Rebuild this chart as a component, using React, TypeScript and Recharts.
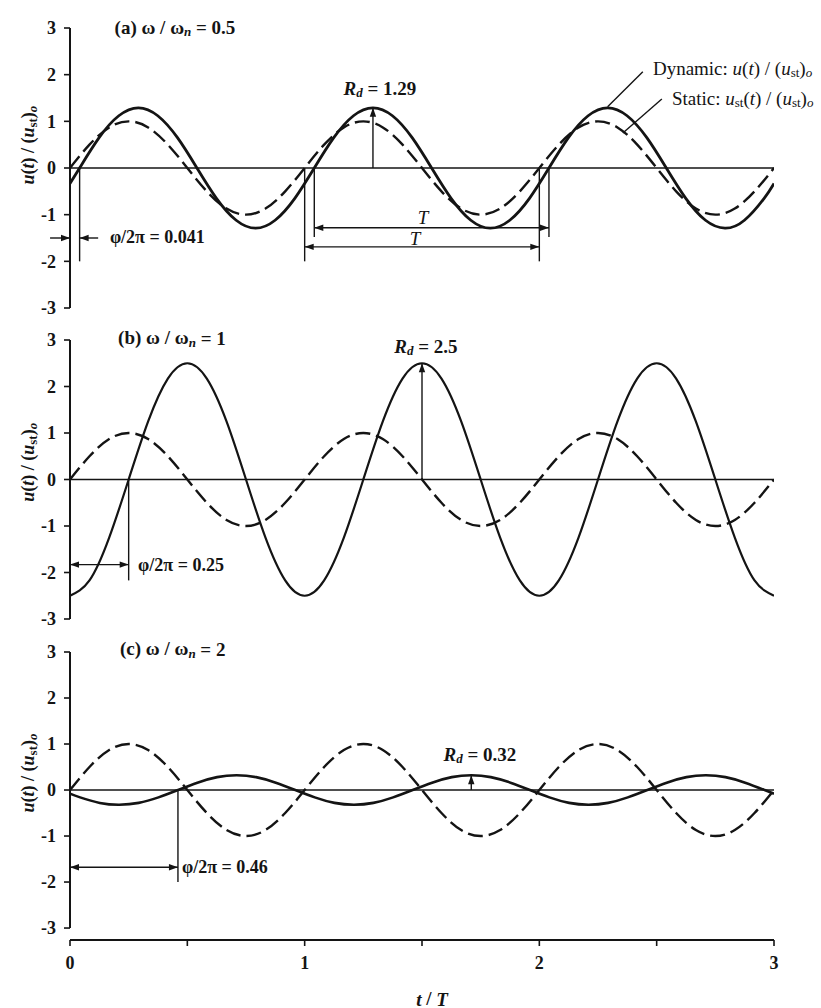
import React from 'react';
import { LineChart, Line, XAxis, YAxis, ReferenceLine, ReferenceDot } from 'recharts';

const INK = '#141414';
const SERIF = '"Liberation Serif", "Times New Roman", Times, serif';

// t / T sampling used by the static curve and by panel (b)
const timeGrid = [
  0, 0.083, 0.167, 0.25, 0.333, 0.417, 0.5, 0.583, 0.667, 0.75, 0.833, 0.917,
  1, 1.083, 1.167, 1.25, 1.333, 1.417, 1.5, 1.583, 1.667, 1.75, 1.833, 1.917,
  2, 2.083, 2.167, 2.25, 2.333, 2.417, 2.5, 2.583, 2.667, 2.75, 2.833, 2.917, 3,
];

// Static: u_st(t) / (u_st)o
const staticResponse = [
  0, 0.5, 0.87, 1, 0.87, 0.5, 0, -0.5, -0.87, -1, -0.87, -0.5,
  0, 0.5, 0.87, 1, 0.87, 0.5, 0, -0.5, -0.87, -1, -0.87, -0.5,
  0, 0.5, 0.87, 1, 0.87, 0.5, 0, -0.5, -0.87, -1, -0.87, -0.5, 0,
];

// (a) ω/ωn = 0.5
const dynamicTimeA = [
  0, 0.041, 0.124, 0.208, 0.291, 0.374, 0.458, 0.541, 0.624, 0.708, 0.791, 0.874, 0.958,
  1.041, 1.124, 1.208, 1.291, 1.374, 1.458, 1.541, 1.624, 1.708, 1.791, 1.874, 1.958,
  2.041, 2.124, 2.208, 2.291, 2.374, 2.458, 2.541, 2.624, 2.708, 2.791, 2.874, 2.958, 3,
];
const dynamicResponseA = [
  -0.33, 0, 0.65, 1.12, 1.29, 1.12, 0.65, 0, -0.65, -1.12, -1.29, -1.12, -0.65,
  0, 0.65, 1.12, 1.29, 1.12, 0.65, 0, -0.65, -1.12, -1.29, -1.12, -0.65,
  0, 0.65, 1.12, 1.29, 1.12, 0.65, 0, -0.65, -1.12, -1.29, -1.12, -0.65, -0.33,
];

// (b) ω/ωn = 1, sampled on timeGrid
const dynamicResponseB = [
  -2.5, -2.17, -1.25, 0, 1.25, 2.17, 2.5, 2.17, 1.25, 0, -1.25, -2.17,
  -2.5, -2.17, -1.25, 0, 1.25, 2.17, 2.5, 2.17, 1.25, 0, -1.25, -2.17,
  -2.5, -2.17, -1.25, 0, 1.25, 2.17, 2.5, 2.17, 1.25, 0, -1.25, -2.17, -2.5,
];

// (c) ω/ωn = 2
const dynamicTimeC = [
  0, 0.043, 0.127, 0.21, 0.293, 0.377, 0.46, 0.543, 0.627, 0.71, 0.793, 0.877, 0.96,
  1.043, 1.127, 1.21, 1.293, 1.377, 1.46, 1.543, 1.627, 1.71, 1.793, 1.877, 1.96,
  2.043, 2.127, 2.21, 2.293, 2.377, 2.46, 2.543, 2.627, 2.71, 2.793, 2.877, 2.96, 3,
];
const dynamicResponseC = [
  -0.08, -0.16, -0.28, -0.32, -0.28, -0.16, 0, 0.16, 0.28, 0.32, 0.28, 0.16, 0,
  -0.16, -0.28, -0.32, -0.28, -0.16, 0, 0.16, 0.28, 0.32, 0.28, 0.16, 0,
  -0.16, -0.28, -0.32, -0.28, -0.16, 0, 0.16, 0.28, 0.32, 0.28, 0.16, 0, -0.08,
];

const frequencyRatios = ['0.5', '1', '2'];
const responseFactors = [1.29, 2.5, 0.32];
const phaseRatios = [0.041, 0.25, 0.46];
const yTicks = [-3, -2, -1, 0, 1, 2, 3];
const xTicks = [0, 0.5, 1, 1.5, 2, 2.5, 3];

const zip = (ts: number[], us: number[]) => ts.map((t, i) => ({ t, u: us[i] }));

const staticRows = zip(timeGrid, staticResponse);
const rowsA = zip(dynamicTimeA, dynamicResponseA);
const rowsB = zip(timeGrid, dynamicResponseB);
const rowsC = zip(dynamicTimeC, dynamicResponseC);

// line with optional filled arrowheads at either end
const arrowShape = (atStart: boolean, atEnd: boolean, width = 1.4) => (p: any) => {
  const { x1, y1, x2, y2 } = p;
  const head = (xa: number, ya: number, xb: number, yb: number) => {
    const dx = xb - xa;
    const dy = yb - ya;
    const len = Math.hypot(dx, dy) || 1;
    const ux = dx / len;
    const uy = dy / len;
    const L = Math.min(9, len * 0.6);
    const W = 3.2;
    const bx = xb - ux * L;
    const by = yb - uy * L;
    return `${xb},${yb} ${bx - uy * W},${by + ux * W} ${bx + uy * W},${by - ux * W}`;
  };
  return (
    <g>
      <line x1={x1} y1={y1} x2={x2} y2={y2} stroke={INK} strokeWidth={width} />
      {atEnd && <polygon points={head(x1, y1, x2, y2)} fill={INK} />}
      {atStart && <polygon points={head(x2, y2, x1, y1)} fill={INK} />}
    </g>
  );
};

const seg = (
  key: string,
  a: [number, number],
  b: [number, number],
  atStart = false,
  atEnd = false,
  width = 1.4,
) => (
  <ReferenceLine
    key={key}
    segment={[{ x: a[0], y: a[1] }, { x: b[0], y: b[1] }]}
    ifOverflow="visible"
    shape={arrowShape(atStart, atEnd, width)}
  />
);

const note = (
  key: string,
  t: number,
  u: number,
  body: React.ReactNode,
  opts: { anchor?: string; size?: number; weight?: string | number; rotate?: boolean; italic?: boolean } = {},
) => (
  <ReferenceDot
    key={key}
    x={t}
    y={u}
    r={1}
    ifOverflow="visible"
    shape={(p: any) => (
      <text
        x={p.cx}
        y={p.cy}
        transform={opts.rotate ? `rotate(-90 ${p.cx} ${p.cy})` : undefined}
        textAnchor={opts.anchor ?? 'start'}
        dominantBaseline="central"
        fontFamily={SERIF}
        fontSize={opts.size ?? 19}
        fontWeight={opts.weight ?? 'normal'}
        fontStyle={opts.italic ? 'italic' : 'normal'}
        fill={INK}
      >
        {body}
      </text>
    )}
  />
);

// subscript followed by text back on the baseline
const sub = (s: string, after: React.ReactNode, italic = false, size = 13) => (
  <>
    <tspan dy={4} fontSize={size} fontStyle={italic ? 'italic' : 'normal'}>{s}</tspan>
    <tspan dy={-4}>{after}</tspan>
  </>
);

const title = (letter: string, ratio: string) => (
  <>
    ({letter}) ω / ω{sub('n', ` = ${ratio}`, true)}
  </>
);

const ustOver = (
  <>
    / (<tspan fontStyle="italic">u</tspan>
    {sub('st', ')')}
    <tspan dy={4} fontSize={13} fontStyle="italic">o</tspan>
  </>
);

const yTitle = (
  <>
    <tspan fontStyle="italic">u</tspan>(<tspan fontStyle="italic">t</tspan>) {ustOver}
  </>
);

const rdLabel = (v: number) => (
  <>
    <tspan fontStyle="italic">R</tspan>
    {sub('d', ` = ${v}`, true)}
  </>
);

const phiLabel = (v: number) => <>φ/2π = {v}</>;

const XTick = (props: any) => {
  const { x, y, payload } = props;
  if (!Number.isInteger(payload.value)) return <g />;
  return (
    <text x={x} y={y} dy="0.72em" textAnchor="middle" fontFamily={SERIF} fontSize={18} fontWeight="bold" fill={INK}>
      {payload.value}
    </text>
  );
};

const PLOT_WIDTH = 821;

function Panel({
  top,
  height,
  margin,
  domain,
  dynamic,
  dynamicWidth,
  bottomAxis,
  children,
}: {
  top: number;
  height: number;
  margin: { top: number; right: number; bottom: number; left: number };
  domain: [number, number];
  dynamic: { t: number; u: number }[];
  dynamicWidth: number;
  bottomAxis?: boolean;
  children?: React.ReactNode;
}) {
  return (
    <div style={{ position: 'absolute', left: 0, top, width: PLOT_WIDTH, height }}>
      <LineChart width={PLOT_WIDTH} height={height} margin={margin}>
        <XAxis
          type="number"
          dataKey="t"
          domain={[0, 3]}
          ticks={xTicks}
          allowDataOverflow
          hide={!bottomAxis}
          height={40}
          tickSize={6}
          tickMargin={10}
          axisLine={{ stroke: INK, strokeWidth: 2 }}
          tickLine={{ stroke: INK, strokeWidth: 1.6 }}
          tick={<XTick />}
        />
        <YAxis
          type="number"
          domain={domain}
          ticks={yTicks}
          allowDataOverflow
          width={70}
          tickSize={6}
          tickMargin={8}
          axisLine={bottomAxis ? false : { stroke: INK, strokeWidth: 2 }}
          tickLine={{ stroke: INK, strokeWidth: 1.6 }}
          tick={{ fill: INK, fontFamily: SERIF, fontSize: 18, fontWeight: 'bold' }}
        />
        {bottomAxis && seg('yaxis', [0, -3], [0, 3], false, false, 2)}
        <ReferenceLine y={0} stroke={INK} strokeWidth={1.6} />
        <Line
          data={staticRows}
          dataKey="u"
          type="natural"
          dot={false}
          stroke={INK}
          strokeWidth={2.4}
          strokeDasharray="15 6"
          isAnimationActive={false}
        />
        <Line
          data={dynamic}
          dataKey="u"
          type="natural"
          dot={false}
          stroke={INK}
          strokeWidth={dynamicWidth}
          isAnimationActive={false}
        />
        {children}
      </LineChart>
    </div>
  );
}

export default function App() {
  const [rdA, rdB, rdC] = responseFactors;
  const [phA, phB, phC] = phaseRatios;
  return (
    <div style={{ position: 'absolute', left: 0, top: 0, width: 821, height: 1008, background: '#fff' }}>
      {/* (a) */}
      <Panel top={0} height={330} margin={{ top: 28, right: 47, bottom: 22, left: 0 }} domain={[-3, 3]} dynamic={rowsA} dynamicWidth={2.8}>
        {note('ta', 0.19, 3.02, title('a', frequencyRatios[0]), { weight: 'bold' })}
        {note('ya', -0.179, 0.49, yTitle, { anchor: 'middle', rotate: true, weight: 'bold', size: 18 })}
        {seg('rda', [1 + phA + 0.25, 0], [1 + phA + 0.25, rdA], false, true)}
        {note('rdta', 1.321, 1.71, rdLabel(rdA), { anchor: 'middle', weight: 'bold' })}
        {seg('tua', [1 + phA, -1.28], [2 + phA, -1.28], true, true)}
        {seg('tuL', [1 + phA, 0], [1 + phA, -1.48])}
        {seg('tuR', [2 + phA, 0], [2 + phA, -1.48])}
        {note('tut', 1.504, -1.07, 'T', { anchor: 'middle', italic: true })}
        {seg('tla', [1, -1.69], [2, -1.69], true, true)}
        {seg('tlL', [1, 0], [1, -2.0])}
        {seg('tlR', [2, 0], [2, -2.0])}
        {note('tlt', 1.47, -1.5, 'T', { anchor: 'middle', italic: true })}
        {seg('pha', [phA, 0], [phA, -2.0])}
        {seg('phl', [-0.085, -1.5], [0, -1.5], false, true)}
        {seg('phr', [0.12, -1.5], [phA, -1.5], false, true)}
        {note('pht', 0.17, -1.48, phiLabel(phA), { weight: 'bold', size: 18 })}
        {seg('ldd', [2.441, 2.06], [2.291, 1.31])}
        {seg('lds', [2.522, 1.48], [2.356, 0.75])}
        {note(
          'lgd',
          2.484,
          2.14,
          <>
            Dynamic: <tspan fontStyle="italic">u</tspan>(<tspan fontStyle="italic">t</tspan>) {ustOver}
          </>,
          { size: 19 },
        )}
        {note(
          'lgs',
          2.565,
          1.5,
          <>
            Static: <tspan fontStyle="italic">u</tspan>
            {sub('st', '(')}
            <tspan fontStyle="italic">t</tspan>) {ustOver}
          </>,
          { size: 19 },
        )}
      </Panel>

      {/* (b) */}
      <Panel top={300} height={330} margin={{ top: 40, right: 47, bottom: 11, left: 0 }} domain={[-3, 3]} dynamic={rowsB} dynamicWidth={2.2}>
        {note('tb', 0.205, 3.05, title('b', frequencyRatios[1]), { weight: 'bold' })}
        {note('yb', -0.179, 0.37, yTitle, { anchor: 'middle', rotate: true, weight: 'bold', size: 18 })}
        {seg('rdb', [1 + phB + 0.25, 0], [1 + phB + 0.25, rdB], false, true)}
        {note('rdtb', 1.517, 2.88, rdLabel(rdB), { anchor: 'middle', weight: 'bold' })}
        {seg('phb', [phB, 0], [phB, -2.17])}
        {seg('phab', [0, -1.83], [phB, -1.83], true, true)}
        {note('phtb', 0.29, -1.83, phiLabel(phB), { weight: 'bold', size: 18 })}
      </Panel>

      {/* (c) */}
      <Panel top={600} height={408} margin={{ top: 52, right: 47, bottom: 28, left: 0 }} domain={[-3.26, 3]} dynamic={rowsC} dynamicWidth={2.6} bottomAxis>
        {note('tc', 0.213, 3.07, title('c', frequencyRatios[2]), { weight: 'bold' })}
        {note('yc', -0.179, 0.37, yTitle, { anchor: 'middle', rotate: true, weight: 'bold', size: 18 })}
        {seg('rdc', [1 + phC + 0.25, 0], [1 + phC + 0.25, rdC], false, true)}
        {note('rdtc', 1.747, 0.78, rdLabel(rdC), { anchor: 'middle', weight: 'bold' })}
        {seg('phc', [phC, 0], [phC, -2.0])}
        {seg('phac', [0, -1.68], [phC, -1.68], true, true)}
        {note('phtc', 0.477, -1.68, phiLabel(phC), { weight: 'bold', size: 18 })}
        {note(
          'xt',
          1.543,
          -4.54,
          <>
            <tspan fontStyle="italic">t</tspan> / <tspan fontStyle="italic">T</tspan>
          </>,
          { anchor: 'middle', weight: 'bold' },
        )}
      </Panel>
    </div>
  );
}
